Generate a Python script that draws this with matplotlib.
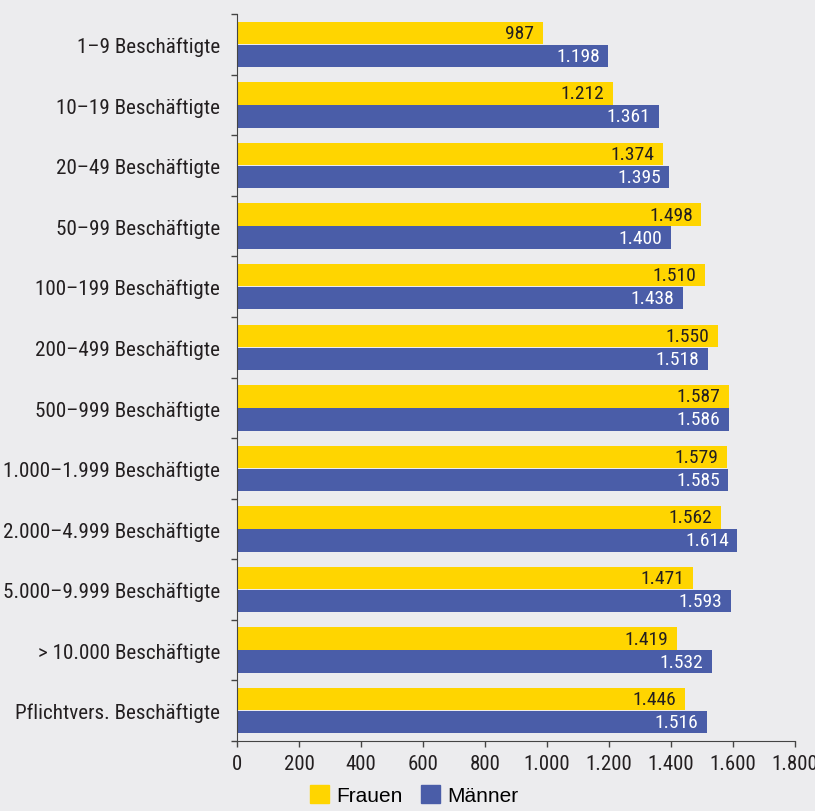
import matplotlib
matplotlib.use("Agg")
import matplotlib.pyplot as plt
import numpy as np
from matplotlib.patches import Patch

plt.rcParams['font.family'] = ['Roboto Condensed', 'Archivo Narrow', 'PT Sans Narrow', 'DejaVu Sans']

# data
categories = ['1–9 Beschäftigte', '10–19 Beschäftigte', '20–49 Beschäftigte',
              '50–99 Beschäftigte', '100–199 Beschäftigte', '200–499 Beschäftigte',
              '500–999 Beschäftigte', '1.000–1.999 Beschäftigte', '2.000–4.999 Beschäftigte',
              '5.000–9.999 Beschäftigte', '> 10.000 Beschäftigte', 'Pflichtvers. Beschäftigte']
frauen = [987, 1212, 1374, 1498, 1510, 1550, 1587, 1579, 1562, 1471, 1419, 1446]
maenner = [1198, 1361, 1395, 1400, 1438, 1518, 1586, 1585, 1614, 1593, 1532, 1516]
xticks = [0, 200, 400, 600, 800, 1000, 1200, 1400, 1600, 1800]
xticklabels = ['0', '200', '400', '600', '800', '1.000', '1.200', '1.400', '1.600', '1.800']

bg = '#ECECEE'
yellow = '#FFD500'
blue = '#4A5DA8'
txt = '#231F20'

def fmt(v):
    return '{:,}'.format(v).replace(',', '.')

fig = plt.figure(figsize=(8.15, 8.12), dpi=100, facecolor=bg)
ax = fig.add_axes([0.2908, 0.0862, 0.6847, 0.8953], facecolor=bg)

y = np.arange(len(categories))
h = 0.37
ax.barh(y - 0.19, frauen, height=h, color=yellow)
ax.barh(y + 0.19, maenner, height=h, color=blue)

for i in range(len(categories)):
    ax.text(frauen[i] - 28, y[i] - 0.19, fmt(frauen[i]), ha='right', va='center',
            fontsize=14, color=txt)
    ax.text(maenner[i] - 28, y[i] + 0.19, fmt(maenner[i]), ha='right', va='center',
            fontsize=14, color='white')

ax.set_xlim(0, 1800)
ax.set_ylim(len(categories) - 0.5, -0.5)
ax.set_xticks(xticks)
ax.set_xticklabels(xticklabels, fontsize=15, color=txt)

# category boundaries as ticks, labels at centres
ax.set_yticks(np.arange(len(categories) + 1) - 0.5)
ax.set_yticklabels([])
ax.set_yticks(y, minor=True)
ax.set_yticklabels(categories, minor=True, fontsize=15.2, color=txt)
ax.tick_params(axis='y', which='minor', length=0, pad=12)
ax.tick_params(axis='y', which='major', length=4, width=1, color='#444444')
ax.tick_params(axis='x', length=4, width=1, color='#444444', pad=5)

for s in ['top', 'right']:
    ax.spines[s].set_visible(False)
ax.spines['left'].set_color('#444444')
ax.spines['bottom'].set_color('#444444')

handles = [Patch(color=yellow, label='Frauen'), Patch(color=blue, label='Männer')]
fig.legend(handles=handles, loc='lower center', bbox_to_anchor=(0.508, -0.016), ncol=2,
           frameon=False, prop={'family': ['Liberation Sans', 'DejaVu Sans'], 'size': 15},
           handlelength=0.9, handleheight=0.9, handletextpad=0.35, columnspacing=0.9)

fig.savefig('out.png', dpi=100, facecolor=bg)
